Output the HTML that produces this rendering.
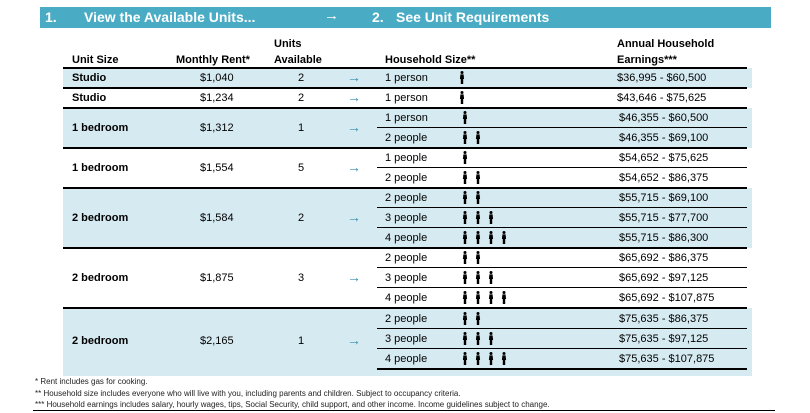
<!DOCTYPE html>
<html><head><meta charset="utf-8">
<style>
body{margin:0;width:810px;height:413px;background:#fff;position:relative;overflow:hidden;font-family:"Liberation Sans",Arial,sans-serif;color:#000}
.bar{position:absolute;left:40px;top:7px;width:731px;height:21px;background:#4aabc4}
.ht{position:absolute;color:#fff;font-weight:bold;font-size:14px;top:9px}
.ch{position:absolute;font-weight:bold;font-size:11px}
.bg{position:absolute;left:63px;width:689px;background:#d6eaf1}
.ln{position:absolute;height:2px;background:#000}
.t{position:absolute;font-size:11px;line-height:20px}
.b{font-weight:bold}
.arr{position:absolute;color:#3a8fb0;font-size:14px;font-weight:bold;line-height:19px}
.fn{position:absolute;left:35px;font-size:8px;color:#222}
</style></head><body>
<div class="bar"></div>
<div class="ht" style="left:45px">1.</div>
<div class="ht" style="left:84px">View the Available Units...</div>
<div class="ht" style="left:324px;font-weight:normal;font-size:15px;top:7px">&#8594;</div>
<div class="ht" style="left:372px">2.</div>
<div class="ht" style="left:396px">See Unit Requirements</div>

<div class="ch" style="left:72px;top:54px">Unit Size</div>
<div class="ch" style="left:176px;top:54px">Monthly Rent*</div>
<div class="ch" style="left:274px;top:38px">Units</div>
<div class="ch" style="left:274px;top:54px">Available</div>
<div class="ch" style="left:385px;top:54px">Household Size**</div>
<div class="ch" style="left:617px;top:38px">Annual Household</div>
<div class="ch" style="left:617px;top:54px">Earnings***</div>

<div class="bg" style="top:68px;height:20px"></div>
<div class="bg" style="top:108px;height:40px"></div>
<div class="bg" style="top:188px;height:60px"></div>
<div class="bg" style="top:308px;height:68px"></div>

<div class="ln" style="left:63px;width:684px;top:67px"></div>
<div class="ln" style="left:63px;width:684px;top:87px"></div>
<div class="ln" style="left:63px;width:684px;top:107px"></div>
<div class="ln" style="left:63px;width:684px;top:147px"></div>
<div class="ln" style="left:63px;width:684px;top:187px"></div>
<div class="ln" style="left:63px;width:684px;top:247px"></div>
<div class="ln" style="left:63px;width:684px;top:307px"></div>
<div class="ln" style="left:377px;width:370px;top:127px;height:1px"></div>
<div class="ln" style="left:377px;width:370px;top:167px;height:1px"></div>
<div class="ln" style="left:377px;width:370px;top:207px;height:1px"></div>
<div class="ln" style="left:377px;width:370px;top:227px;height:1px"></div>
<div class="ln" style="left:377px;width:370px;top:267px;height:1px"></div>
<div class="ln" style="left:377px;width:370px;top:287px;height:1px"></div>
<div class="ln" style="left:377px;width:370px;top:328px;height:1px"></div>
<div class="ln" style="left:377px;width:370px;top:348px;height:1px"></div>
<div class="ln" style="left:377px;width:370px;top:368px"></div>

<div class="t b" style="left:72px;top:68px">Studio</div><div class="t" style="left:200px;top:68px">$1,040</div><div class="t" style="left:298px;top:68px">2</div><div class="arr" style="left:347px;top:68px">&#8594;</div>
<div class="t b" style="left:72px;top:88px">Studio</div><div class="t" style="left:200px;top:88px">$1,234</div><div class="t" style="left:298px;top:88px">2</div><div class="arr" style="left:347px;top:88px">&#8594;</div>
<div class="t b" style="left:72px;top:118px">1 bedroom</div><div class="t" style="left:200px;top:118px">$1,312</div><div class="t" style="left:298px;top:118px">1</div><div class="arr" style="left:347px;top:118px">&#8594;</div>
<div class="t b" style="left:72px;top:158px">1 bedroom</div><div class="t" style="left:200px;top:158px">$1,554</div><div class="t" style="left:298px;top:158px">5</div><div class="arr" style="left:347px;top:158px">&#8594;</div>
<div class="t b" style="left:72px;top:208px">2 bedroom</div><div class="t" style="left:200px;top:208px">$1,584</div><div class="t" style="left:298px;top:208px">2</div><div class="arr" style="left:347px;top:208px">&#8594;</div>
<div class="t b" style="left:72px;top:268px">2 bedroom</div><div class="t" style="left:200px;top:268px">$1,875</div><div class="t" style="left:298px;top:268px">3</div><div class="arr" style="left:347px;top:268px">&#8594;</div>
<div class="t b" style="left:72px;top:331px">2 bedroom</div><div class="t" style="left:200px;top:331px">$2,165</div><div class="t" style="left:298px;top:331px">1</div><div class="arr" style="left:347px;top:331px">&#8594;</div>

<div class="t" style="left:385px;top:68px">1 person</div><div class="t" style="left:617px;top:68px">$36,995 - $60,500</div>
<div class="t" style="left:385px;top:88px">1 person</div><div class="t" style="left:617px;top:88px">$43,646 - $75,625</div>
<div class="t" style="left:385px;top:108px">1 person</div><div class="t" style="left:619px;top:108px">$46,355 - $60,500</div>
<div class="t" style="left:385px;top:128px">2 people</div><div class="t" style="left:619px;top:128px">$46,355 - $69,100</div>
<div class="t" style="left:385px;top:148px">1 people</div><div class="t" style="left:619px;top:148px">$54,652 - $75,625</div>
<div class="t" style="left:385px;top:168px">2 people</div><div class="t" style="left:619px;top:168px">$54,652 - $86,375</div>
<div class="t" style="left:385px;top:188px">2 people</div><div class="t" style="left:619px;top:188px">$55,715 - $69,100</div>
<div class="t" style="left:385px;top:208px">3 people</div><div class="t" style="left:619px;top:208px">$55,715 - $77,700</div>
<div class="t" style="left:385px;top:228px">4 people</div><div class="t" style="left:619px;top:228px">$55,715 - $86,300</div>
<div class="t" style="left:385px;top:248px">2 people</div><div class="t" style="left:619px;top:248px">$65,692 - $86,375</div>
<div class="t" style="left:385px;top:268px">3 people</div><div class="t" style="left:619px;top:268px">$65,692 - $97,125</div>
<div class="t" style="left:385px;top:288px">4 people</div><div class="t" style="left:619px;top:288px">$65,692 - $107,875</div>
<div class="t" style="left:385px;top:309px">2 people</div><div class="t" style="left:619px;top:309px">$75,635 - $86,375</div>
<div class="t" style="left:385px;top:329px">3 people</div><div class="t" style="left:619px;top:329px">$75,635 - $97,125</div>
<div class="t" style="left:385px;top:349px">4 people</div><div class="t" style="left:619px;top:349px">$75,635 - $107,875</div>

<svg width="810" height="413" style="position:absolute;left:0;top:0">
<defs><g id="pp"><circle cx="2" cy="1.5" r="1.5"/><path d="M0.4 3.4h3.2l0.5 4.6h-0.9v5h-2.4v-5h-0.9z"/></g></defs>
<g fill="#000">
<use href="#pp" x="460" y="71"/>
<use href="#pp" x="460" y="91"/>
<use href="#pp" x="463" y="111"/>
<use href="#pp" x="463" y="131"/><use href="#pp" x="476" y="131"/>
<use href="#pp" x="463" y="151"/>
<use href="#pp" x="463" y="171"/><use href="#pp" x="476" y="171"/>
<use href="#pp" x="463" y="191"/><use href="#pp" x="476" y="191"/>
<use href="#pp" x="463" y="211"/><use href="#pp" x="476" y="211"/><use href="#pp" x="489" y="211"/>
<use href="#pp" x="463" y="231"/><use href="#pp" x="476" y="231"/><use href="#pp" x="489" y="231"/><use href="#pp" x="502" y="231"/>
<use href="#pp" x="463" y="251"/><use href="#pp" x="476" y="251"/>
<use href="#pp" x="463" y="271"/><use href="#pp" x="476" y="271"/><use href="#pp" x="489" y="271"/>
<use href="#pp" x="463" y="291"/><use href="#pp" x="476" y="291"/><use href="#pp" x="489" y="291"/><use href="#pp" x="502" y="291"/>
<use href="#pp" x="463" y="312"/><use href="#pp" x="476" y="312"/>
<use href="#pp" x="463" y="332"/><use href="#pp" x="476" y="332"/><use href="#pp" x="489" y="332"/>
<use href="#pp" x="463" y="352"/><use href="#pp" x="476" y="352"/><use href="#pp" x="489" y="352"/><use href="#pp" x="502" y="352"/>
</g></svg>

<div class="fn" style="top:377px">* Rent includes gas for cooking.</div>
<div class="fn" style="top:389px">** Household size includes everyone who will live with you, including parents and children. Subject to occupancy criteria.</div>
<div class="fn" style="top:400px">*** Household earnings includes salary, hourly wages, tips, Social Security, child support, and other income. Income guidelines subject to change.</div>
<div class="ln" style="left:33px;width:742px;top:410px;height:1px"></div>
</body></html>
